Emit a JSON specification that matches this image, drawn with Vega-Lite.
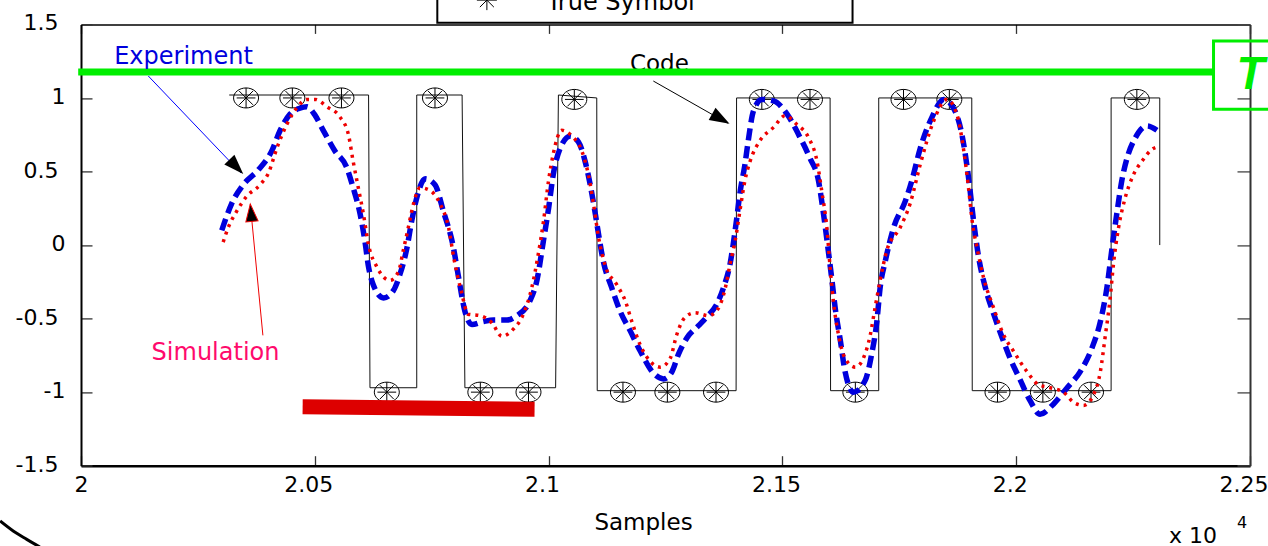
{
  "$schema": "https://vega.github.io/schema/vega-lite/v6.json",
  "width": 1169,
  "height": 441.3,
  "autosize": "none",
  "padding": {"left": 81, "top": 24.4, "right": 18, "bottom": 80.3},
  "background": "white",
  "config": {"view": {"stroke": null}, "axis": {"grid": false}},
  "resolve": {"axis": {"x": "independent", "y": "independent"}},
  "datasets": {
    "code": [
      {"i": 1, "s": 20317, "v": 1.02}, {"i": 2, "s": 20615, "v": 1.02}, {"i": 3, "s": 20618, "v": -0.97},
      {"i": 4, "s": 20718, "v": -0.97}, {"i": 5, "s": 20718, "v": 1.02}, {"i": 6, "s": 20815, "v": 1.02},
      {"i": 7, "s": 20821, "v": -0.97}, {"i": 8, "s": 21015, "v": -0.97}, {"i": 9, "s": 21021, "v": 1.02},
      {"i": 10, "s": 21103, "v": 1.0}, {"i": 11, "s": 21104, "v": -0.99}, {"i": 12, "s": 21401, "v": -0.99},
      {"i": 13, "s": 21402, "v": 1.0}, {"i": 14, "s": 21602, "v": 1.0}, {"i": 15, "s": 21603, "v": -0.99},
      {"i": 16, "s": 21706, "v": -0.99}, {"i": 17, "s": 21706, "v": 1.0}, {"i": 18, "s": 21905, "v": 1.0},
      {"i": 19, "s": 21906, "v": -0.99}, {"i": 20, "s": 22203, "v": -0.99}, {"i": 21, "s": 22203, "v": 1.0},
      {"i": 22, "s": 22307, "v": 1.0}, {"i": 23, "s": 22307, "v": 0.0}
    ],
    "sym": [
      {"s": 20353, "v": 1.0}, {"s": 20452, "v": 1.0}, {"s": 20557, "v": 1.0}, {"s": 20654, "v": -1.0},
      {"s": 20757, "v": 1.0}, {"s": 20854, "v": -1.0}, {"s": 20957, "v": -1.0}, {"s": 21055, "v": 0.99},
      {"s": 21159, "v": -1.0}, {"s": 21254, "v": -1.0}, {"s": 21358, "v": -1.0}, {"s": 21456, "v": 0.99},
      {"s": 21559, "v": 0.99}, {"s": 21656, "v": -1.0}, {"s": 21759, "v": 0.99}, {"s": 21857, "v": 0.99},
      {"s": 21960, "v": -1.0}, {"s": 22057, "v": -1.0}, {"s": 22160, "v": -1.0}, {"s": 22258, "v": 0.99}
    ],
    "exp": [
      {"s":20301,"v":0.10},{"s":20322,"v":0.28},{"s":20347,"v":0.41},{"s":20379,"v":0.51},{"s":20408,"v":0.64},{"s":20426,"v":0.78},{"s":20447,"v":0.89},{"s":20468,"v":0.93},{"s":20483,"v":0.94},{"s":20501,"v":0.88},{"s":20518,"v":0.78},{"s":20543,"v":0.64},{"s":20568,"v":0.53},{"s":20582,"v":0.39},{"s":20597,"v":0.21},{"s":20607,"v":0.03},{"s":20615,"v":-0.15},{"s":20625,"v":-0.27},{"s":20647,"v":-0.36},{"s":20668,"v":-0.31},{"s":20682,"v":-0.20},{"s":20697,"v":-0.02},{"s":20707,"v":0.16},{"s":20718,"v":0.32},{"s":20736,"v":0.45},{"s":20757,"v":0.41},{"s":20775,"v":0.23},{"s":20796,"v":-0.01},{"s":20807,"v":-0.21},{"s":20821,"v":-0.45},{"s":20836,"v":-0.54},{"s":20861,"v":-0.52},{"s":20882,"v":-0.51},{"s":20911,"v":-0.51},{"s":20932,"v":-0.48},{"s":20960,"v":-0.38},{"s":20975,"v":-0.24},{"s":20989,"v":0.03},{"s":21000,"v":0.25},{"s":21010,"v":0.48},{"s":21025,"v":0.66},{"s":21046,"v":0.74},{"s":21064,"v":0.70},{"s":21078,"v":0.57},{"s":21089,"v":0.41},{"s":21100,"v":0.21},{"s":21107,"v":0.07},{"s":21117,"v":-0.11},{"s":21135,"v":-0.29},{"s":21153,"v":-0.45},{"s":21174,"v":-0.58},{"s":21196,"v":-0.72},{"s":21224,"v":-0.87},{"s":21246,"v":-0.91},{"s":21264,"v":-0.86},{"s":21278,"v":-0.74},{"s":21296,"v":-0.63},{"s":21320,"v":-0.55},{"s":21338,"v":-0.49},{"s":21360,"v":-0.40},{"s":21374,"v":-0.29},{"s":21388,"v":-0.13},{"s":21399,"v":0.10},{"s":21410,"v":0.37},{"s":21420,"v":0.55},{"s":21427,"v":0.71},{"s":21438,"v":0.91},{"s":21456,"v":0.99},{"s":21481,"v":0.98},{"s":21510,"v":0.89},{"s":21538,"v":0.73},{"s":21559,"v":0.59},{"s":21577,"v":0.44},{"s":21588,"v":0.21},{"s":21599,"v":-0.06},{"s":21606,"v":-0.24},{"s":21613,"v":-0.43},{"s":21624,"v":-0.65},{"s":21634,"v":-0.86},{"s":21652,"v":-1.00},{"s":21677,"v":-0.92},{"s":21691,"v":-0.74},{"s":21702,"v":-0.52},{"s":21709,"v":-0.29},{"s":21720,"v":-0.11},{"s":21738,"v":0.12},{"s":21763,"v":0.30},{"s":21777,"v":0.44},{"s":21795,"v":0.66},{"s":21820,"v":0.87},{"s":21845,"v":0.99},{"s":21866,"v":0.93},{"s":21884,"v":0.75},{"s":21898,"v":0.46},{"s":21909,"v":0.16},{"s":21919,"v":-0.07},{"s":21934,"v":-0.29},{"s":21952,"v":-0.47},{"s":21970,"v":-0.63},{"s":21987,"v":-0.77},{"s":22009,"v":-0.92},{"s":22030,"v":-1.06},{"s":22051,"v":-1.15},{"s":22080,"v":-1.08},{"s":22109,"v":-0.97},{"s":22137,"v":-0.86},{"s":22162,"v":-0.70},{"s":22180,"v":-0.52},{"s":22194,"v":-0.29},{"s":22205,"v":-0.02},{"s":22215,"v":0.21},{"s":22226,"v":0.44},{"s":22237,"v":0.59},{"s":22255,"v":0.73},{"s":22280,"v":0.81},{"s":22301,"v":0.78}
    ],
    "sim": [
      {"s":20304,"v":0.02},{"s":20315,"v":0.12},{"s":20333,"v":0.23},{"s":20354,"v":0.33},{"s":20383,"v":0.41},{"s":20401,"v":0.49},{"s":20419,"v":0.66},{"s":20440,"v":0.82},{"s":20461,"v":0.93},{"s":20483,"v":0.99},{"s":20501,"v":0.99},{"s":20526,"v":0.94},{"s":20554,"v":0.87},{"s":20572,"v":0.75},{"s":20582,"v":0.57},{"s":20593,"v":0.39},{"s":20604,"v":0.21},{"s":20615,"v":0.00},{"s":20633,"v":-0.15},{"s":20661,"v":-0.24},{"s":20679,"v":-0.18},{"s":20689,"v":-0.04},{"s":20700,"v":0.12},{"s":20711,"v":0.28},{"s":20725,"v":0.39},{"s":20747,"v":0.37},{"s":20768,"v":0.28},{"s":20786,"v":0.12},{"s":20798,"v":-0.10},{"s":20813,"v":-0.31},{"s":20828,"v":-0.47},{"s":20853,"v":-0.48},{"s":20879,"v":-0.53},{"s":20900,"v":-0.62},{"s":20925,"v":-0.57},{"s":20946,"v":-0.47},{"s":20964,"v":-0.29},{"s":20978,"v":-0.06},{"s":20989,"v":0.16},{"s":21000,"v":0.44},{"s":21010,"v":0.62},{"s":21028,"v":0.78},{"s":21050,"v":0.74},{"s":21071,"v":0.64},{"s":21085,"v":0.48},{"s":21096,"v":0.28},{"s":21107,"v":0.05},{"s":21121,"v":-0.14},{"s":21146,"v":-0.27},{"s":21164,"v":-0.38},{"s":21178,"v":-0.52},{"s":21196,"v":-0.68},{"s":21217,"v":-0.79},{"s":21239,"v":-0.83},{"s":21260,"v":-0.77},{"s":21274,"v":-0.61},{"s":21292,"v":-0.49},{"s":21313,"v":-0.46},{"s":21342,"v":-0.48},{"s":21363,"v":-0.43},{"s":21378,"v":-0.29},{"s":21388,"v":-0.13},{"s":21399,"v":0.03},{"s":21410,"v":0.25},{"s":21420,"v":0.44},{"s":21431,"v":0.57},{"s":21452,"v":0.71},{"s":21481,"v":0.80},{"s":21506,"v":0.88},{"s":21531,"v":0.82},{"s":21556,"v":0.73},{"s":21574,"v":0.57},{"s":21584,"v":0.37},{"s":21595,"v":0.12},{"s":21602,"v":-0.15},{"s":21609,"v":-0.38},{"s":21620,"v":-0.61},{"s":21634,"v":-0.77},{"s":21656,"v":-0.83},{"s":21673,"v":-0.77},{"s":21688,"v":-0.61},{"s":21698,"v":-0.43},{"s":21709,"v":-0.24},{"s":21723,"v":-0.04},{"s":21752,"v":0.12},{"s":21773,"v":0.28},{"s":21795,"v":0.55},{"s":21823,"v":0.84},{"s":21852,"v":0.99},{"s":21873,"v":0.89},{"s":21887,"v":0.66},{"s":21898,"v":0.39},{"s":21906,"v":0.16},{"s":21917,"v":-0.03},{"s":21930,"v":-0.22},{"s":21952,"v":-0.43},{"s":21973,"v":-0.61},{"s":21994,"v":-0.72},{"s":22023,"v":-0.86},{"s":22048,"v":-0.95},{"s":22073,"v":-0.97},{"s":22101,"v":-1.00},{"s":22123,"v":-1.07},{"s":22144,"v":-1.09},{"s":22165,"v":-1.02},{"s":22180,"v":-0.86},{"s":22190,"v":-0.63},{"s":22201,"v":-0.36},{"s":22208,"v":-0.13},{"s":22219,"v":0.12},{"s":22233,"v":0.32},{"s":22251,"v":0.48},{"s":22269,"v":0.57},{"s":22290,"v":0.65},{"s":22305,"v":0.67}
    ],
    "arc": [
      {"s": 19827, "v": -1.876}, {"s": 19855, "v": -1.944}, {"s": 19884, "v": -2.001}, {"s": 19912, "v": -2.053}
    ]
  },
  "layer": [
    {
      "data": {"name": "code"},
      "mark": {"type": "line", "color": "#111111", "strokeWidth": 1},
      "encoding": {
        "x": {"field": "s", "type": "quantitative", "scale": {"domain": [20000, 22500], "nice": false, "zero": false},
          "axis": {"orient": "bottom", "values": [20000, 20500, 21000, 21500, 22000, 22500],
            "labelExpr": "format(datum.value/10000, '~g')",
            "labelFont": "DejaVu Sans", "labelFontSize": 22, "labelColor": "#000000",
            "labelPadding": 19, "labelOffset": {"condition": {"test": "datum.value == 20000", "value": 0}, "value": -6.5},
            "labelOverlap": false, "labelFlush": false, "labelBound": false,
            "tickSize": -10, "tickColor": "#333333", "tickWidth": 1.3,
            "domainColor": "#000000", "domainWidth": 2.5,
            "title": "Samples", "titleFont": "DejaVu Sans", "titleFontSize": 23, "titleFontWeight": "normal", "titleColor": "#000000",
            "titleX": 562, "titleY": 64, "titleBaseline": "alphabetic", "titleAlign": "center"}},
        "y": {"field": "v", "type": "quantitative", "scale": {"domain": [-1.5, 1.5], "nice": false, "zero": false},
          "axis": {"orient": "left", "values": [-1.5, -1, -0.5, 0, 0.5, 1, 1.5],
            "labelExpr": "datum.value + ''",
            "labelFont": "DejaVu Sans", "labelFontSize": 22, "labelColor": "#000000",
            "labelPadding": {"condition": {"test": "datum.value % 1 == 0", "value": 27}, "value": 34},
            "labelOffset": -1.5, "labelOverlap": false, "labelFlush": false, "labelBound": false,
            "tickSize": -11, "tickColor": "#333333", "tickWidth": 1.3,
            "domainColor": "#000000", "domainWidth": 2, "title": null}},
        "order": {"field": "i"}
      }
    },
    {
      "data": {"name": "sym"},
      "mark": {"type": "point", "shape": "M-1,0A1,0.8 0 1,0 1,0A1,0.8 0 1,0 -1,0ZM0,-0.8L0,0.8M-0.75,0L0.75,0M-0.55,-0.55L0.55,0.55M-0.55,0.55L0.55,-0.55", "filled": false, "color": "#000000", "strokeWidth": 1, "size": 625, "opacity": 1},
      "encoding": {
        "x": {"field": "s", "type": "quantitative", "scale": {"domain": [20000, 22500], "nice": false, "zero": false},
          "axis": {"orient": "top", "values": [20000, 20500, 21000, 21500, 22000, 22500], "labels": false, "title": null,
            "tickSize": -9, "tickColor": "#333333", "tickWidth": 1.3, "domainColor": "#000000", "domainWidth": 1.5}},
        "y": {"field": "v", "type": "quantitative", "scale": {"domain": [-1.5, 1.5], "nice": false, "zero": false},
          "axis": {"orient": "right", "values": [-1.5, -1, -0.5, 0, 0.5, 1, 1.5], "labels": false, "title": null,
            "tickSize": -13, "tickColor": "#444444", "tickWidth": 1.3, "domainColor": "#333333", "domainWidth": 2}}
      }
    },
    {
      "data": {"name": "exp"},
      "mark": {"type": "line", "color": "#0000dd", "strokeWidth": 5.5, "strokeDash": [12, 6], "interpolate": "monotone"},
      "encoding": {
        "x": {"field": "s", "type": "quantitative", "scale": {"domain": [20000, 22500], "nice": false, "zero": false}, "axis": null},
        "y": {"field": "v", "type": "quantitative", "scale": {"domain": [-1.5, 1.5], "nice": false, "zero": false}, "axis": null}
      }
    },
    {
      "data": {"name": "sim"},
      "mark": {"type": "line", "color": "#ee0000", "strokeWidth": 3.5, "strokeDash": [3, 5], "interpolate": "monotone"},
      "encoding": {
        "x": {"field": "s", "type": "quantitative", "scale": {"domain": [20000, 22500], "nice": false, "zero": false}, "axis": null},
        "y": {"field": "v", "type": "quantitative", "scale": {"domain": [-1.5, 1.5], "nice": false, "zero": false}, "axis": null}
      }
    },
    {
      "data": {"values": [{"s": 21174, "v": 1.186, "t": "Code"}]},
      "mark": {"type": "text", "font": "DejaVu Sans", "fontSize": 23, "color": "#000000", "align": "left", "baseline": "alphabetic"},
      "encoding": {
        "x": {"field": "s", "type": "quantitative", "scale": {"domain": [20000, 22500], "nice": false, "zero": false}, "axis": null},
        "y": {"field": "v", "type": "quantitative", "scale": {"domain": [-1.5, 1.5], "nice": false, "zero": false}, "axis": null},
        "text": {"field": "t"}
      }
    },
    {
      "data": {"values": [{"s": 19994, "s2": 22422, "v": 1.176}]},
      "mark": {"type": "rule", "color": "#00ee00", "strokeWidth": 7},
      "encoding": {
        "x": {"field": "s", "type": "quantitative", "scale": {"domain": [20000, 22500], "nice": false, "zero": false}, "axis": null},
        "x2": {"field": "s2"},
        "y": {"field": "v", "type": "quantitative", "scale": {"domain": [-1.5, 1.5], "nice": false, "zero": false}, "axis": null}
      }
    },
    {
      "data": {"values": [{"s": 22422, "s2": 22620, "v": 1.387, "v2": 0.9225}]},
      "mark": {"type": "rect", "fill": "transparent", "stroke": "#00ee00", "strokeWidth": 3},
      "encoding": {
        "x": {"field": "s", "type": "quantitative", "scale": {"domain": [20000, 22500], "nice": false, "zero": false}, "axis": null},
        "x2": {"field": "s2"},
        "y": {"field": "v", "type": "quantitative", "scale": {"domain": [-1.5, 1.5], "nice": false, "zero": false}, "axis": null},
        "y2": {"field": "v2"}
      }
    },
    {
      "data": {"values": [{"s": 22471, "v": 1.058, "t": "T"}]},
      "mark": {"type": "text", "font": "Liberation Sans", "fontSize": 46, "fontWeight": "bold", "fontStyle": "italic", "color": "#00ee00", "align": "left", "baseline": "alphabetic"},
      "encoding": {
        "x": {"field": "s", "type": "quantitative", "scale": {"domain": [20000, 22500], "nice": false, "zero": false}, "axis": null},
        "y": {"field": "v", "type": "quantitative", "scale": {"domain": [-1.5, 1.5], "nice": false, "zero": false}, "axis": null},
        "text": {"field": "t"}
      }
    },
    {
      "data": {"values": [{"s": 20071, "v": 1.228, "t": "Experiment"}]},
      "mark": {"type": "text", "font": "DejaVu Sans", "fontSize": 24, "color": "#0000dd", "align": "left", "baseline": "alphabetic"},
      "encoding": {
        "x": {"field": "s", "type": "quantitative", "scale": {"domain": [20000, 22500], "nice": false, "zero": false}, "axis": null},
        "y": {"field": "v", "type": "quantitative", "scale": {"domain": [-1.5, 1.5], "nice": false, "zero": false}, "axis": null},
        "text": {"field": "t"}
      }
    },
    {
      "data": {"values": [{"s": 20151, "v": -0.784, "t": "Simulation"}]},
      "mark": {"type": "text", "font": "DejaVu Sans", "fontSize": 24, "color": "#ff0a6c", "align": "left", "baseline": "alphabetic"},
      "encoding": {
        "x": {"field": "s", "type": "quantitative", "scale": {"domain": [20000, 22500], "nice": false, "zero": false}, "axis": null},
        "y": {"field": "v", "type": "quantitative", "scale": {"domain": [-1.5, 1.5], "nice": false, "zero": false}, "axis": null},
        "text": {"field": "t"}
      }
    },
    {
      "data": {"values": [{"s": 20144, "v": 1.149, "s2": 20342, "v2": 0.49}]},
      "mark": {"type": "rule", "color": "#0000ff", "strokeWidth": 1},
      "encoding": {
        "x": {"field": "s", "type": "quantitative", "scale": {"domain": [20000, 22500], "nice": false, "zero": false}, "axis": null},
        "x2": {"field": "s2"},
        "y": {"field": "v", "type": "quantitative", "scale": {"domain": [-1.5, 1.5], "nice": false, "zero": false}, "axis": null},
        "y2": {"field": "v2"}
      }
    },
    {
      "data": {"values": [{"s": 20389, "v": -0.614, "s2": 20362, "v2": 0.279}]},
      "mark": {"type": "rule", "color": "#ee0000", "strokeWidth": 1},
      "encoding": {
        "x": {"field": "s", "type": "quantitative", "scale": {"domain": [20000, 22500], "nice": false, "zero": false}, "axis": null},
        "x2": {"field": "s2"},
        "y": {"field": "v", "type": "quantitative", "scale": {"domain": [-1.5, 1.5], "nice": false, "zero": false}, "axis": null},
        "y2": {"field": "v2"}
      }
    },
    {
      "data": {"values": [{"s": 21224, "v": 1.115, "s2": 21383, "v2": 0.828}]},
      "mark": {"type": "rule", "color": "#000000", "strokeWidth": 1},
      "encoding": {
        "x": {"field": "s", "type": "quantitative", "scale": {"domain": [20000, 22500], "nice": false, "zero": false}, "axis": null},
        "x2": {"field": "s2"},
        "y": {"field": "v", "type": "quantitative", "scale": {"domain": [-1.5, 1.5], "nice": false, "zero": false}, "axis": null},
        "y2": {"field": "v2"}
      }
    },
    {
      "data": {"values": [{"s": 20347, "v": 0.483}]},
      "mark": {"type": "point", "shape": "M0,0L-0.35,1L0.35,1Z", "filled": true, "color": "#000000", "size": 1600, "angle": 136, "opacity": 1},
      "encoding": {
        "x": {"field": "s", "type": "quantitative", "scale": {"domain": [20000, 22500], "nice": false, "zero": false}, "axis": null},
        "y": {"field": "v", "type": "quantitative", "scale": {"domain": [-1.5, 1.5], "nice": false, "zero": false}, "axis": null}
      }
    },
    {
      "data": {"values": [{"s": 20362, "v": 0.279}]},
      "mark": {"type": "point", "shape": "M0,0L-0.35,1L0.35,1Z", "filled": true, "fill": "#000000", "stroke": "#ee0000", "strokeWidth": 1, "size": 1225, "angle": 354.5, "opacity": 1},
      "encoding": {
        "x": {"field": "s", "type": "quantitative", "scale": {"domain": [20000, 22500], "nice": false, "zero": false}, "axis": null},
        "y": {"field": "v", "type": "quantitative", "scale": {"domain": [-1.5, 1.5], "nice": false, "zero": false}, "axis": null}
      }
    },
    {
      "data": {"values": [{"s": 21387, "v": 0.825}]},
      "mark": {"type": "point", "shape": "M0,0L-0.35,1L0.35,1Z", "filled": true, "color": "#000000", "size": 1600, "angle": 119.3, "opacity": 1},
      "encoding": {
        "x": {"field": "s", "type": "quantitative", "scale": {"domain": [20000, 22500], "nice": false, "zero": false}, "axis": null},
        "y": {"field": "v", "type": "quantitative", "scale": {"domain": [-1.5, 1.5], "nice": false, "zero": false}, "axis": null}
      }
    },
    {
      "data": {"values": [{"s": 20474, "v": -1.100, "s2": 20970, "v2": -1.117}]},
      "mark": {"type": "rule", "color": "#dd0000", "strokeWidth": 15, "strokeCap": "butt"},
      "encoding": {
        "x": {"field": "s", "type": "quantitative", "scale": {"domain": [20000, 22500], "nice": false, "zero": false}, "axis": null},
        "x2": {"field": "s2"},
        "y": {"field": "v", "type": "quantitative", "scale": {"domain": [-1.5, 1.5], "nice": false, "zero": false}, "axis": null},
        "y2": {"field": "v2"}
      }
    },
    {
      "data": {"values": [{"s": 20762, "s2": 21650, "v": 1.511, "v2": 1.8}]},
      "mark": {"type": "rect", "fill": "#ffffff", "stroke": "#000000", "strokeWidth": 2},
      "encoding": {
        "x": {"field": "s", "type": "quantitative", "scale": {"domain": [20000, 22500], "nice": false, "zero": false}, "axis": null},
        "x2": {"field": "s2"},
        "y": {"field": "v", "type": "quantitative", "scale": {"domain": [-1.5, 1.5], "nice": false, "zero": false}, "axis": null},
        "y2": {"field": "v2"}
      }
    },
    {
      "data": {"values": [{"s": 20996, "v": 1.601, "t": "True Symbol"}]},
      "mark": {"type": "text", "font": "DejaVu Sans", "fontSize": 24, "color": "#000000", "align": "left", "baseline": "alphabetic"},
      "encoding": {
        "x": {"field": "s", "type": "quantitative", "scale": {"domain": [20000, 22500], "nice": false, "zero": false}, "axis": null},
        "y": {"field": "v", "type": "quantitative", "scale": {"domain": [-1.5, 1.5], "nice": false, "zero": false}, "axis": null},
        "text": {"field": "t"}
      }
    },
    {
      "data": {"values": [{"s": 20868, "v": 1.665}]},
      "mark": {"type": "point", "shape": "M0,-1L0,1M-1,0L1,0M-0.7,-0.7L0.7,0.7M-0.7,0.7L0.7,-0.7", "filled": false, "color": "#000000", "strokeWidth": 1, "size": 400, "opacity": 1},
      "encoding": {
        "x": {"field": "s", "type": "quantitative", "scale": {"domain": [20000, 22500], "nice": false, "zero": false}, "axis": null},
        "y": {"field": "v", "type": "quantitative", "scale": {"domain": [-1.5, 1.5], "nice": false, "zero": false}, "axis": null}
      }
    },
    {
      "data": {"name": "arc"},
      "mark": {"type": "line", "color": "#000000", "strokeWidth": 3, "interpolate": "monotone"},
      "encoding": {
        "x": {"field": "s", "type": "quantitative", "scale": {"domain": [20000, 22500], "nice": false, "zero": false}, "axis": null},
        "y": {"field": "v", "type": "quantitative", "scale": {"domain": [-1.5, 1.5], "nice": false, "zero": false}, "axis": null}
      }
    },
    {
      "data": {"values": [{"s": 22327, "v": -2.025, "t": "x 10"}]},
      "mark": {"type": "text", "font": "DejaVu Sans", "fontSize": 22, "color": "#000000", "align": "left", "baseline": "alphabetic"},
      "encoding": {
        "x": {"field": "s", "type": "quantitative", "scale": {"domain": [20000, 22500], "nice": false, "zero": false}, "axis": null},
        "y": {"field": "v", "type": "quantitative", "scale": {"domain": [-1.5, 1.5], "nice": false, "zero": false}, "axis": null},
        "text": {"field": "t"}
      }
    },
    {
      "data": {"values": [{"s": 22472, "v": -1.922, "t": "4"}]},
      "mark": {"type": "text", "font": "DejaVu Sans", "fontSize": 16, "color": "#000000", "align": "left", "baseline": "alphabetic"},
      "encoding": {
        "x": {"field": "s", "type": "quantitative", "scale": {"domain": [20000, 22500], "nice": false, "zero": false}, "axis": null},
        "y": {"field": "v", "type": "quantitative", "scale": {"domain": [-1.5, 1.5], "nice": false, "zero": false}, "axis": null},
        "text": {"field": "t"}
      }
    }
  ]
}
